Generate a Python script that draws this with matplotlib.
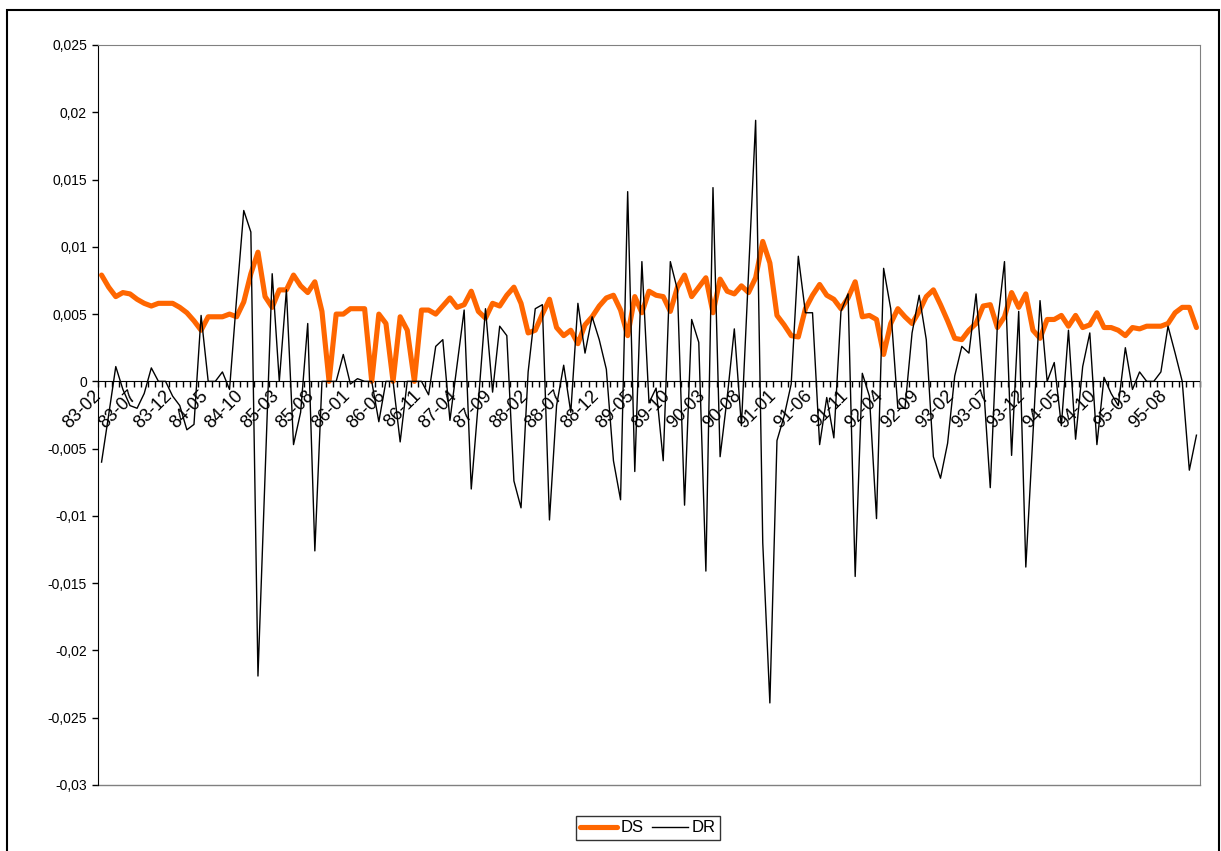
import matplotlib
matplotlib.use("Agg")
import matplotlib.pyplot as plt
from matplotlib.patches import Rectangle
from matplotlib.lines import Line2D
from matplotlib.ticker import FixedLocator, FuncFormatter, NullFormatter
from matplotlib.transforms import offset_copy

plt.rcParams['font.family'] = ['Liberation Sans', 'DejaVu Sans']

# monthly categories 83-02 .. 95-12
months = []
yy, mm = 83, 2
for _ in range(155):
    months.append(f"{yy:02d}-{mm:02d}")
    mm += 1
    if mm > 12:
        mm = 1
        yy += 1

DS = [0.0079, 0.0070, 0.0063, 0.0066, 0.0065, 0.0061, 0.0058, 0.0056, 0.0058, 0.0058,
      0.0058, 0.0055, 0.0051, 0.0045, 0.0038, 0.0048, 0.0048, 0.0048, 0.0050, 0.0048,
      0.0059, 0.0080, 0.0096, 0.0063, 0.0055, 0.0068, 0.0068, 0.0079, 0.0071, 0.0066,
      0.0074, 0.0052, 0.0000, 0.0050, 0.0050, 0.0054, 0.0054, 0.0054, 0.0000, 0.0050,
      0.0043, 0.0000, 0.0048, 0.0038, 0.0000, 0.0053, 0.0053, 0.0050, 0.0056, 0.0062,
      0.0055, 0.0057, 0.0067, 0.0052, 0.0047, 0.0058, 0.0056, 0.0064, 0.0070, 0.0058,
      0.0036, 0.0038, 0.0050, 0.0061, 0.0040, 0.0034, 0.0038, 0.0028, 0.0042, 0.0048,
      0.0056, 0.0062, 0.0064, 0.0053, 0.0034, 0.0063, 0.0051, 0.0067, 0.0064, 0.0063,
      0.0052, 0.0070, 0.0079, 0.0063, 0.0070, 0.0077, 0.0051, 0.0076, 0.0067, 0.0065,
      0.0071, 0.0066, 0.0077, 0.0104, 0.0088, 0.0049, 0.0042, 0.0034, 0.0033, 0.0054,
      0.0064, 0.0072, 0.0064, 0.0061, 0.0054, 0.0062, 0.0074, 0.0048, 0.0049, 0.0046,
      0.0020, 0.0043, 0.0054, 0.0048, 0.0043, 0.0052, 0.0063, 0.0068, 0.0057, 0.0045,
      0.0032, 0.0031, 0.0038, 0.0043, 0.0056, 0.0057, 0.0040, 0.0048, 0.0066, 0.0055,
      0.0065, 0.0038, 0.0032, 0.0046, 0.0046, 0.0049, 0.0041, 0.0049, 0.0040, 0.0042,
      0.0051, 0.0040, 0.0040, 0.0038, 0.0034, 0.0040, 0.0039, 0.0041, 0.0041, 0.0041,
      0.0043, 0.0051, 0.0055, 0.0055, 0.0040]

DR = [-0.0060, -0.0025, 0.0011, -0.0006, -0.0018, -0.0020, -0.0009, 0.0010, 0.0000, 0.0000,
      -0.0011, -0.0018, -0.0036, -0.0032, 0.0049, 0.0000, 0.0000, 0.0007, -0.0006, 0.0062,
      0.0127, 0.0111, -0.0219, -0.0070, 0.0080, 0.0000, 0.0068, -0.0047, -0.0023, 0.0043,
      -0.0126, 0.0000, 0.0000, 0.0000, 0.0020, -0.0002, 0.0002, 0.0000, 0.0000, -0.0030,
      0.0000, 0.0000, -0.0045, 0.0000, 0.0000, 0.0000, -0.0010, 0.0026, 0.0031, -0.0029,
      0.0012, 0.0053, -0.0080, -0.0015, 0.0054, -0.0008, 0.0041, 0.0034, -0.0074, -0.0094,
      0.0007, 0.0054, 0.0057, -0.0103, -0.0018, 0.0012, -0.0023, 0.0058, 0.0021, 0.0048,
      0.0031, 0.0009, -0.0059, -0.0088, 0.0141, -0.0067, 0.0089, -0.0016, -0.0005, -0.0059,
      0.0089, 0.0068, -0.0092, 0.0046, 0.0029, -0.0141, 0.0144, -0.0056, -0.0012, 0.0039,
      -0.0033, 0.0080, 0.0194, -0.0120, -0.0239, -0.0044, -0.0026, -0.0002, 0.0093, 0.0051,
      0.0051, -0.0047, -0.0012, -0.0042, 0.0052, 0.0065, -0.0145, 0.0006, -0.0011, -0.0102,
      0.0084, 0.0054, -0.0020, -0.0020, 0.0036, 0.0064, 0.0031, -0.0056, -0.0072, -0.0046,
      0.0004, 0.0026, 0.0021, 0.0065, 0.0001, -0.0079, 0.0042, 0.0089, -0.0055, 0.0052,
      -0.0138, -0.0040, 0.0060, 0.0000, 0.0014, -0.0033, 0.0038, -0.0043, 0.0011, 0.0036,
      -0.0047, 0.0003, -0.0009, -0.0018, 0.0025, -0.0006, 0.0007, 0.0000, 0.0000, 0.0007,
      0.0041, 0.0021, 0.0000, -0.0066, -0.0040]

y_ticks = [0.025, 0.02, 0.015, 0.01, 0.005, 0, -0.005, -0.01, -0.015, -0.02, -0.025, -0.03]
label_idx = list(range(0, len(months), 5))   # 83-02 ... 95-08

W, H = 1221, 851
fig = plt.figure(figsize=(W / 100, H / 100), dpi=100)
fig.patch.set_facecolor('white')

# outer chart border
fig.patches.append(Rectangle((7 / W, -0.05), (1219 - 7) / W, 1.05 - 10 / H,
                             transform=fig.transFigure, fill=False,
                             edgecolor='black', linewidth=1.5))

ax = fig.add_axes([98 / W, 1 - 785 / H, (1200 - 98) / W, (785 - 45) / H])
x = list(range(len(months)))

ax.plot(x, DS, color='#FF6600', linewidth=3.7, solid_joinstyle='round',
        solid_capstyle='round', zorder=3, label='DS')
ax.plot(x, DR, color='black', linewidth=1.0, zorder=4, label='DR')

ax.set_xlim(-0.5, len(months) - 0.5)
ax.set_ylim(-0.03, 0.025)

# spines
ax.spines['bottom'].set_position(('data', 0))
ax.spines['bottom'].set_color('black')
ax.spines['bottom'].set_zorder(2)
ax.spines['left'].set_color('black')
ax.spines['top'].set_color('#808080')
ax.spines['right'].set_color('#808080')
ax.add_line(Line2D([0, 1], [0, 0], transform=ax.transAxes, color='#808080',
                   linewidth=1.0, clip_on=False))

# y axis
ax.yaxis.set_major_locator(FixedLocator(y_ticks))
ax.yaxis.set_major_formatter(FuncFormatter(lambda v, p: f"{round(v, 4):g}".replace('.', ',')))
ax.tick_params(axis='y', direction='out', length=4, width=1, labelsize=10, pad=4)

# x axis: tick marks at category boundaries
ax.xaxis.set_major_locator(FixedLocator([i - 0.5 for i in range(len(months) + 1)]))
ax.xaxis.set_major_formatter(NullFormatter())
ax.tick_params(axis='x', which='major', direction='out', length=4, width=1)

# category labels every 5 categories, rotated 45 degrees below the zero line
lab_tr = offset_copy(ax.transData, fig=fig, x=-3, y=-12, units='dots')
for i in label_idx:
    ax.text(i, 0, months[i], transform=lab_tr, rotation=45, rotation_mode='anchor',
            ha='right', va='center', fontsize=13, clip_on=False)

leg = fig.legend(loc='center', bbox_to_anchor=(648 / W, 1 - 828 / H), ncol=2,
                 frameon=True, fancybox=False, shadow=False, fontsize=12,
                 handlelength=2.2, handletextpad=0.2, columnspacing=0.5,
                 borderpad=0.25, edgecolor='black')
leg.get_frame().set_linewidth(1.0)

fig.savefig('out.png', dpi=100, facecolor='white')
